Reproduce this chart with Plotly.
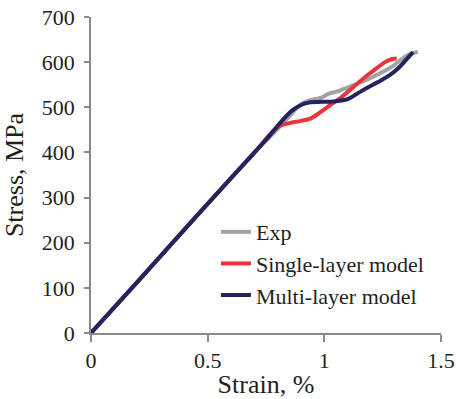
import plotly.graph_objects as go

exp_strain = [0, 0.2, 0.4, 0.6, 0.7, 0.8, 0.85, 0.88, 0.91, 0.94, 0.98, 1.02, 1.06, 1.11, 1.16, 1.21, 1.25, 1.29, 1.33, 1.36, 1.4]
exp_stress = [0, 114, 229, 343, 400, 452, 480, 497, 510, 516, 520, 530, 536, 546, 556, 568, 578, 590, 606, 616, 623]

single_strain = [0, 0.2, 0.4, 0.6, 0.7, 0.78, 0.81, 0.85, 0.9, 0.94, 0.98, 1.02, 1.07, 1.12, 1.17, 1.22, 1.26, 1.29, 1.31]
single_stress = [0, 114, 229, 343, 400, 447, 459, 465, 470, 475, 488, 503, 521, 543, 565, 585, 600, 607, 608]

multi_strain = [0, 0.2, 0.4, 0.6, 0.68, 0.75, 0.81, 0.86, 0.9, 0.94, 0.99, 1.04, 1.1, 1.14, 1.18, 1.23, 1.28, 1.32, 1.35, 1.38]
multi_stress = [0, 114, 229, 343, 388, 428, 465, 492, 505, 511, 512, 513, 518, 530, 542, 556, 571, 588, 605, 622]

font = dict(family="Liberation Serif, Times New Roman, serif", size=22, color="#231f20")

fig = go.Figure()
fig.add_trace(go.Scatter(x=exp_strain, y=exp_stress, mode="lines", name="Exp",
                         line=dict(color="#a3a3a6", width=4, shape="spline")))
fig.add_trace(go.Scatter(x=single_strain, y=single_stress, mode="lines", name="Single-layer model",
                         line=dict(color="#ee3338", width=4, shape="spline")))
fig.add_trace(go.Scatter(x=multi_strain, y=multi_stress, mode="lines", name="Multi-layer model",
                         line=dict(color="#232360", width=4, shape="spline")))

fig.update_layout(
    width=456, height=399,
    margin=dict(l=91, r=15, t=17, b=66),
    paper_bgcolor="white", plot_bgcolor="white",
    font=font,
    legend=dict(x=0.357, y=0.386, xanchor="left", yanchor="top", bgcolor="rgba(0,0,0,0)",
                font=font, tracegroupgap=0, itemwidth=30),
    xaxis=dict(range=[0, 1.5], tickvals=[0, 0.5, 1, 1.5], ticktext=["0", "0.5", "1", "1.5"],
               showgrid=False, zeroline=False, showline=True, linecolor="#8a8a8e", linewidth=1.5,
               ticks="outside", ticklen=7, tickcolor="#8a8a8e", tickwidth=1.5, automargin=False,
               ticklabeloverflow="allow",
               title=dict(text="Strain, %", standoff=0), tickfont=font),
    yaxis=dict(range=[0, 700], tickvals=[0, 100, 200, 300, 400, 500, 600, 700],
               showgrid=False, zeroline=False, showline=True, linecolor="#8a8a8e", linewidth=1.5,
               ticks="outside", ticklen=5, tickcolor="#8a8a8e", tickwidth=1.5, automargin=False,
               ticklabelstandoff=5, ticklabeloverflow="allow",
               title=dict(text="Stress, MPa", standoff=12), tickfont=font),
)

fig.write_html("out.html", config={"displayModeBar": False},
               post_script="document.body.style.margin='0';document.body.style.overflow='hidden';")
